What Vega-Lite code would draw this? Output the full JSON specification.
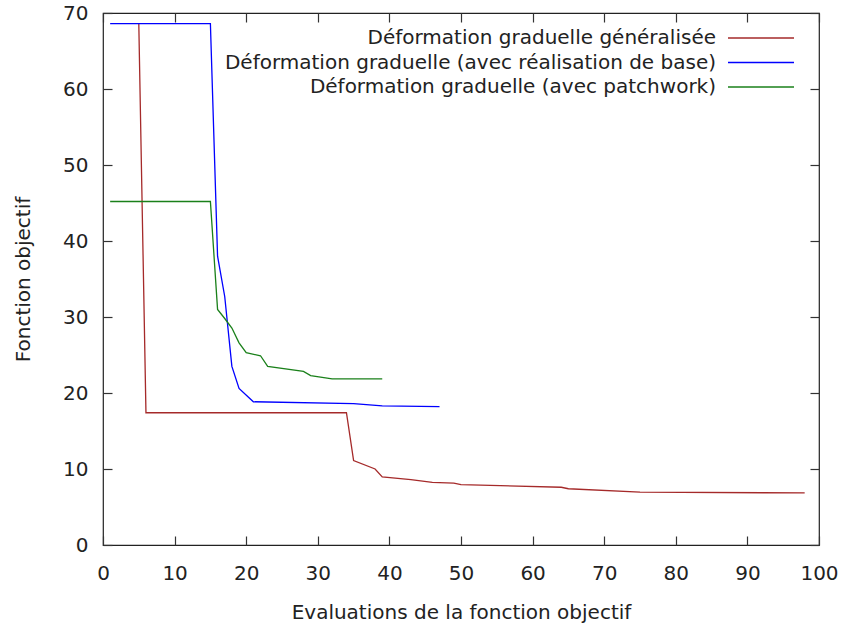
{
  "$schema": "https://vega.github.io/schema/vega-lite/v6.json",
  "autosize": {"type": "none"},
  "padding": {"left": 103, "top": 13, "right": 24, "bottom": 78},
  "width": 716,
  "height": 532,
  "background": "white",
  "config": {
    "font": "DejaVu Sans",
    "view": {"stroke": "#222222", "strokeWidth": 1.2},
    "axis": {
      "grid": false,
      "domain": false,
      "tickColor": "#333333",
      "tickSize": -9,
      "tickWidth": 1.2,
      "labelFlush": false,
      "labelFont": "DejaVu Sans",
      "labelFontSize": 20,
      "labelColor": "#222222",
      "titleFont": "DejaVu Sans",
      "titleFontSize": 20,
      "titleFontWeight": "normal",
      "titleColor": "#222222"
    }
  },
  "data": {
    "values": [
      {"serie": "Déformation graduelle généralisée", "x": 5, "y": 68.6},
      {"serie": "Déformation graduelle généralisée", "x": 6, "y": 17.4},
      {"serie": "Déformation graduelle généralisée", "x": 34, "y": 17.4},
      {"serie": "Déformation graduelle généralisée", "x": 35, "y": 11.1},
      {"serie": "Déformation graduelle généralisée", "x": 38, "y": 10.0},
      {"serie": "Déformation graduelle généralisée", "x": 39, "y": 8.95},
      {"serie": "Déformation graduelle généralisée", "x": 43, "y": 8.6},
      {"serie": "Déformation graduelle généralisée", "x": 46, "y": 8.25},
      {"serie": "Déformation graduelle généralisée", "x": 49, "y": 8.15},
      {"serie": "Déformation graduelle généralisée", "x": 50, "y": 7.95},
      {"serie": "Déformation graduelle généralisée", "x": 64, "y": 7.6},
      {"serie": "Déformation graduelle généralisée", "x": 65, "y": 7.4},
      {"serie": "Déformation graduelle généralisée", "x": 75, "y": 6.95},
      {"serie": "Déformation graduelle généralisée", "x": 98, "y": 6.85},
      {"serie": "Déformation graduelle (avec réalisation de base)", "x": 1, "y": 68.6},
      {"serie": "Déformation graduelle (avec réalisation de base)", "x": 15, "y": 68.6},
      {"serie": "Déformation graduelle (avec réalisation de base)", "x": 16, "y": 38.0},
      {"serie": "Déformation graduelle (avec réalisation de base)", "x": 17, "y": 32.7},
      {"serie": "Déformation graduelle (avec réalisation de base)", "x": 18, "y": 23.5},
      {"serie": "Déformation graduelle (avec réalisation de base)", "x": 19, "y": 20.6},
      {"serie": "Déformation graduelle (avec réalisation de base)", "x": 21, "y": 18.85},
      {"serie": "Déformation graduelle (avec réalisation de base)", "x": 35, "y": 18.6},
      {"serie": "Déformation graduelle (avec réalisation de base)", "x": 39, "y": 18.3},
      {"serie": "Déformation graduelle (avec réalisation de base)", "x": 47, "y": 18.2},
      {"serie": "Déformation graduelle (avec patchwork)", "x": 1, "y": 45.2},
      {"serie": "Déformation graduelle (avec patchwork)", "x": 15, "y": 45.2},
      {"serie": "Déformation graduelle (avec patchwork)", "x": 16, "y": 31.0},
      {"serie": "Déformation graduelle (avec patchwork)", "x": 17, "y": 29.8},
      {"serie": "Déformation graduelle (avec patchwork)", "x": 18, "y": 28.55},
      {"serie": "Déformation graduelle (avec patchwork)", "x": 19, "y": 26.6},
      {"serie": "Déformation graduelle (avec patchwork)", "x": 20, "y": 25.3},
      {"serie": "Déformation graduelle (avec patchwork)", "x": 22, "y": 24.9},
      {"serie": "Déformation graduelle (avec patchwork)", "x": 23, "y": 23.5},
      {"serie": "Déformation graduelle (avec patchwork)", "x": 28, "y": 22.85},
      {"serie": "Déformation graduelle (avec patchwork)", "x": 29, "y": 22.3},
      {"serie": "Déformation graduelle (avec patchwork)", "x": 32, "y": 21.85},
      {"serie": "Déformation graduelle (avec patchwork)", "x": 39, "y": 21.85}
    ]
  },
  "resolve": {"axis": {"x": "independent", "y": "independent"}},
  "layer": [
    {
      "mark": {"type": "line", "strokeWidth": 1.3, "clip": true},
      "encoding": {
        "x": {
          "field": "x", "type": "quantitative",
          "scale": {"domain": [0, 100], "nice": false},
          "axis": {"values": [0,10,20,30,40,50,60,70,80,90,100], "title": "Evaluations de la fonction objectif", "labelPadding": 27, "titlePadding": 19}
        },
        "y": {
          "field": "y", "type": "quantitative",
          "scale": {"domain": [0, 70], "nice": false},
          "axis": {"values": [0,10,20,30,40,50,60,70], "title": "Fonction objectif", "labelPadding": 24, "titlePadding": 29}
        },
        "color": {
          "field": "serie", "type": "nominal",
          "sort": ["Déformation graduelle généralisée", "Déformation graduelle (avec réalisation de base)", "Déformation graduelle (avec patchwork)"],
          "scale": {
            "domain": ["Déformation graduelle généralisée", "Déformation graduelle (avec réalisation de base)", "Déformation graduelle (avec patchwork)"],
            "range": ["#a52a2a", "#0000ff", "#1a801a"]
          },
          "legend": {
            "title": null,
            "orient": "none",
            "legendX": 648,
            "legendY": 15,
            "symbolType": "M-4,0H4",
            "symbolSize": 272.25,
            "symbolStrokeWidth": 1.3,
            "symbolFillColor": "transparent",
            "labelAlign": "right",
            "labelOffset": -55,
            "labelFontSize": 20,
            "labelFont": "DejaVu Sans",
            "labelColor": "#222222",
            "labelLimit": 700,
            "rowPadding": 4.5,
            "padding": 0
          }
        }
      }
    },
    {
      "mark": {"type": "line", "opacity": 0},
      "encoding": {
        "x": {"field": "x", "type": "quantitative", "axis": {"orient": "top", "labels": false, "title": null, "values": [0,10,20,30,40,50,60,70,80,90,100]}},
        "y": {"field": "y", "type": "quantitative", "axis": {"orient": "right", "labels": false, "title": null, "values": [0,10,20,30,40,50,60,70]}}
      }
    }
  ]
}
